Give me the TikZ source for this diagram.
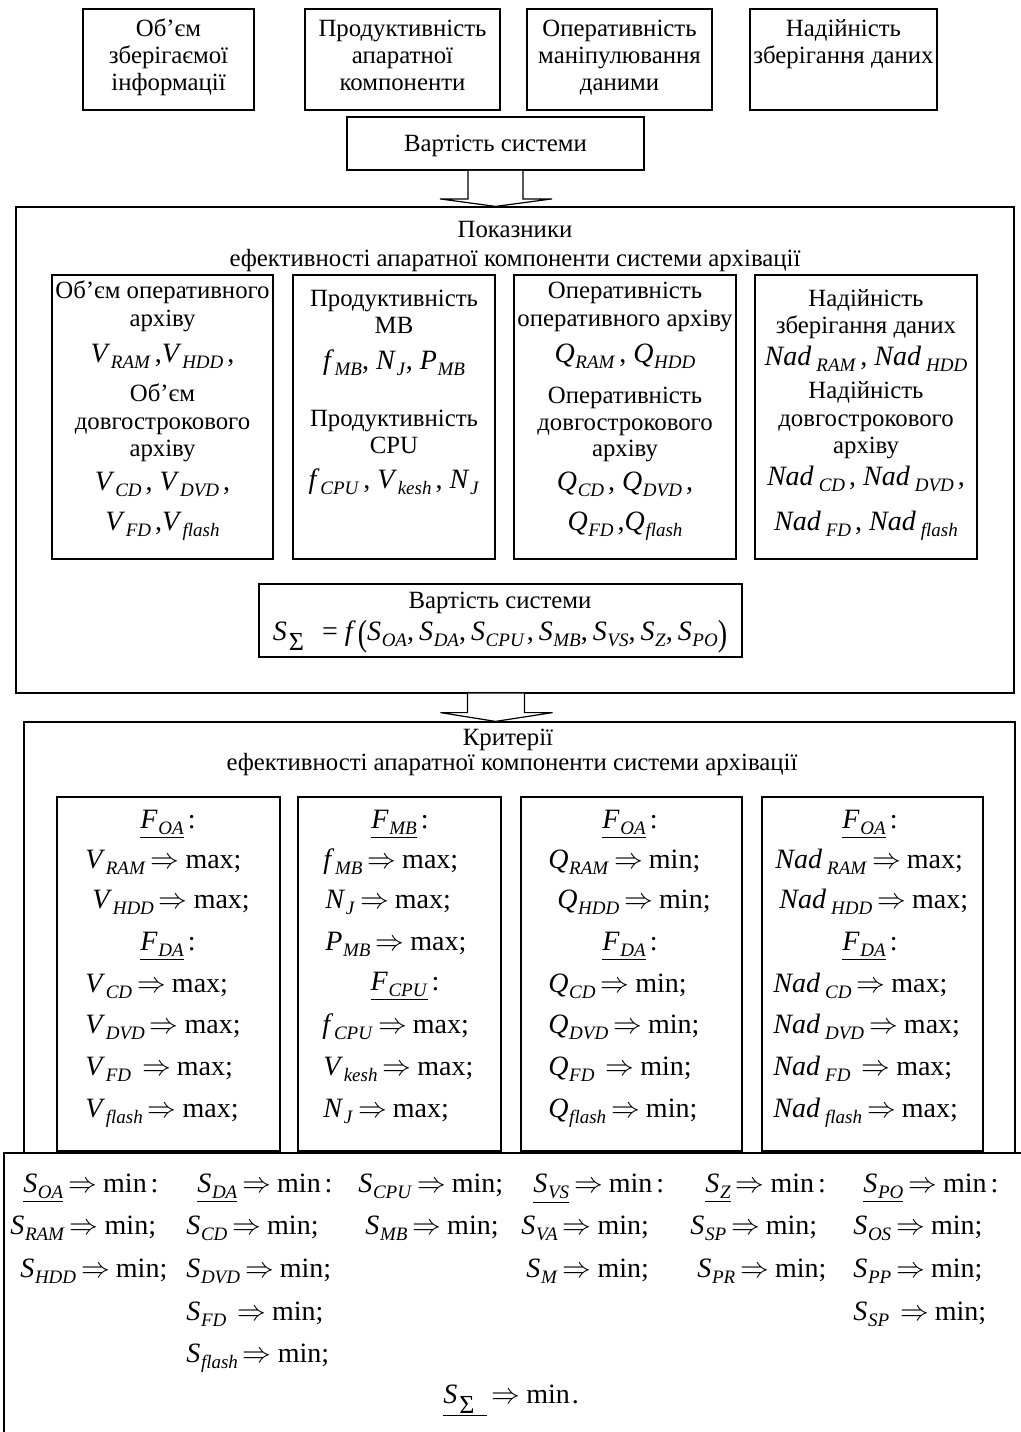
\documentclass[tikz,border=0pt]{standalone}
\usepackage{fontspec}
\setmainfont{Liberation Serif}
\usepackage{graphicx}
\usetikzlibrary{fit,calc}
\newcommand\vsub[2]{\textit{#1}\kern0.3pt\raisebox{-3.4pt}{\fontsize{9.5}{10}\selectfont\textit{#2}}}
\newcommand\nadsub[1]{\textit{Nad}\kern2.5pt\raisebox{-3.4pt}{\fontsize{9.5}{10}\selectfont\textit{#1}}}
\newcommand\rarr{\kern2.5pt$\Rightarrow$\kern3pt}
\newcommand\Ssig{\textit{S}\kern1pt\raisebox{-5pt}{\fontsize{13}{13}\selectfont Σ}}
\newcommand\bigparen[1]{\raisebox{-2.5pt}{\scalebox{1}[1.3]{#1}}}
\begin{document}
\begin{tikzpicture}[x=0.5pt,y=-0.5pt,
 box/.style={draw,line width=0.9pt,inner sep=0pt,fill=white},
 frame/.style={draw,line width=0.6pt,inner sep=0pt,fill=white},
 txt/.style={font=\fontsize{12.4}{14}\selectfont,inner sep=0pt,anchor=base},
 mth/.style={font=\fontsize{14}{16}\selectfont,inner sep=0pt,anchor=base},
 mthw/.style={mth,anchor=base west},
 barrow/.style={draw,line width=0.6pt,fill=white,line join=miter}]
\clip (0,0) rectangle (1021,1432);
% ---------- top row ----------
\node[box,fit={(83,9)(254,110)}] (b1) {};
\node[box,fit={(305,9)(500,110)}] (b2) {};
\node[box,fit={(527,9)(712,110)}] (b3) {};
\node[box,fit={(750,9)(937,110)}] (b4) {};
\node[txt] (b1a) at (168.5,36) {Об’єм};
\node[txt] (b1b) at (168.5,63) {зберігаємої};
\node[txt] (b1c) at (168.5,90) {інформації};
\node[txt] (b2a) at (402.5,36) {Продуктивність};
\node[txt] (b2b) at (402.5,63) {апаратної};
\node[txt] (b2c) at (402.5,90) {компоненти};
\node[txt] (b3a) at (619.5,36) {Оперативність};
\node[txt] (b3b) at (619.5,63) {маніпулювання};
\node[txt] (b3c) at (619.5,90) {даними};
\node[txt] (b4a) at (843.5,36) {Надійність};
\node[txt] (b4b) at (843.5,63) {зберігання даних};
\node[box,fit={(347,117)(644,170)}] (cost) {};
\node[txt] (costt) at (495.5,151) {Вартість системи};
% ---------- frames ----------
\node[frame,fit={(16,207)(1014,693)}] (f1) {};
\node[frame,fit={(24,722)(1015,1200)}] (f2) {};
% arrows
\coordinate (a1s) at (cost.south);
\draw[barrow] ($(a1s)+(-27.5,0)$) -- ($(a1s)+(-27.5,28)$) -- ($(a1s)+(-55.5,28)$) -- (a1s |- f1.north) -- ($(a1s)+(56.5,28)$) -- ($(a1s)+(27.5,28)$) -- ($(a1s)+(27.5,0)$);
\coordinate (a2s) at (a1s |- f1.south);
\draw[barrow] ($(a2s)+(-28,0)$) -- ($(a2s)+(-28,19)$) -- ($(a2s)+(-55,19)$) -- (a2s |- f2.north) -- ($(a2s)+(57,19)$) -- ($(a2s)+(29,19)$) -- ($(a2s)+(29,0)$);
% ---------- frame 1 contents ----------
\node[txt] (f1t1) at (515,237) {Показники};
\node[txt] (f1t2) at (515,266) {ефективності апаратної компоненти системи архівації};
\node[box,fit={(52,275)(273,559)}] (p1) {};
\node[box,fit={(293,275)(495,559)}] (p2) {};
\node[box,fit={(514,275)(736,559)}] (p3) {};
\node[box,fit={(755,275)(977,559)}] (p4) {};
% box p1
\node[txt] (p1a) at (162.5,298) {Об’єм оперативного};
\node[txt] (p1b) at (162.5,326) {архіву};
\node[mth] (p1c) at (162.5,362) {\vsub{V}{RAM}\kern2pt,\vsub{V}{HDD}\kern2pt,};
\node[txt] (p1d) at (162.5,401) {Об’єм};
\node[txt] (p1e) at (162.5,429) {довгострокового};
\node[txt] (p1f) at (162.5,456) {архіву};
\node[mth] (p1g) at (162.5,490) {\vsub{V}{CD}\kern2pt, \vsub{V}{DVD}\kern2pt,};
\node[mth] (p1h) at (162.5,530) {\vsub{V}{FD}\kern2pt,\vsub{V}{flash}};
% box p2
\node[txt] (p2a) at (394,306) {Продуктивність};
\node[txt] (p2b) at (394,333) {MB};
\node[mth] (p2c) at (394,369) {\vsub{f}{MB}, \vsub{N}{J}, \vsub{P}{MB}};
\node[txt] (p2d) at (394,426) {Продуктивність};
\node[txt] (p2e) at (394,453) {CPU};
\node[mth] (p2f) at (394,488) {\vsub{f}{CPU}\kern2pt, \vsub{V}{kesh}\kern2pt, \vsub{N}{J}};
% box p3
\node[txt] (p3a) at (625,298) {Оперативність};
\node[txt] (p3b) at (625,326) {оперативного архіву};
\node[mth] (p3c) at (625,362) {\vsub{Q}{RAM}\kern2pt, \vsub{Q}{HDD}};
\node[txt] (p3d) at (625,403) {Оперативність};
\node[txt] (p3e) at (625,430) {довгострокового};
\node[txt] (p3f) at (625,456) {архіву};
\node[mth] (p3g) at (625,490) {\vsub{Q}{CD}\kern2pt, \vsub{Q}{DVD}\kern2pt,};
\node[mth] (p3h) at (625,530) {\vsub{Q}{FD}\kern2pt,\vsub{Q}{flash}};
% box p4
\node[txt] (p4a) at (866,306) {Надійність};
\node[txt] (p4b) at (866,333) {зберігання даних};
\node[mth] (p4c) at (866,365) {\nadsub{RAM}\kern2pt, \nadsub{HDD}};
\node[txt] (p4d) at (866,398) {Надійність};
\node[txt] (p4e) at (866,426) {довгострокового};
\node[txt] (p4f) at (866,453) {архіву};
\node[mth] (p4g) at (866,485) {\nadsub{CD}\kern2pt, \nadsub{DVD}\kern2pt,};
\node[mth] (p4h) at (866,530) {\nadsub{FD}\kern2pt, \nadsub{flash}};
% cost box 2
\node[box,fit={(259,584)(742,657)}] (cost2) {};
\node[txt] (cost2a) at (500,608) {Вартість системи};
\node[mth] (cost2b) at (500,640) {\Ssig\kern9pt= \textit{f}\kern1pt\bigparen{(}\vsub{S}{OA},\kern2.5pt\vsub{S}{DA},\kern2.5pt\vsub{S}{CPU}\kern1pt,\kern2.5pt\vsub{S}{MB},\kern2.5pt\vsub{S}{VS},\kern2.5pt\vsub{S}{Z},\kern2.5pt\vsub{S}{PO}\bigparen{)}};
% ---------- frame 2 contents ----------
\node[txt] (f2t1) at (508,745) {Критерії};
\node[txt] (f2t2) at (512,770) {ефективності апаратної компоненти системи архівації};
\node[box,fit={(57,797)(280,1151)}] (k1) {};
\node[box,fit={(298,797)(501,1151)}] (k2) {};
\node[box,fit={(521,797)(742,1151)}] (k3) {};
\node[box,fit={(762,797)(983,1151)}] (k4) {};
% k1
\node[mth] (k1a) at (168,828) {\underline{\vsub{F}{OA}}\kern2pt:};
\node[mthw] (k1b) at (85,868) {\vsub{V}{RAM}\rarr max;};
\node[mthw] (k1c) at (92,908) {\vsub{V}{HDD}\rarr max;};
\node[mth] (k1d) at (168,950) {\underline{\vsub{F}{DA}}\kern2pt:};
\node[mthw] (k1e) at (85,992) {\vsub{V}{CD}\rarr max;};
\node[mthw] (k1f) at (85,1033) {\vsub{V}{DVD}\rarr max;};
\node[mthw] (k1g) at (85,1075) {\vsub{V}{FD}\kern3pt\rarr max;};
\node[mthw] (k1h) at (85,1117) {\vsub{V}{flash}\rarr max;};
% k2
\node[mth] (k2a) at (400,828) {\underline{\vsub{F}{MB}}\kern2pt:};
\node[mthw] (k2b) at (323,868) {\vsub{f}{MB}\rarr max;};
\node[mthw] (k2c) at (325,908) {\vsub{N}{J}\rarr max;};
\node[mthw] (k2d) at (325,950) {\vsub{P}{MB}\rarr max;};
\node[mth] (k2e) at (405,990) {\underline{\vsub{F}{CPU}}\kern2pt:};
\node[mthw] (k2f) at (322,1033) {\vsub{f}{CPU}\rarr max;};
\node[mthw] (k2g) at (323,1075) {\vsub{V}{kesh}\rarr max;};
\node[mthw] (k2h) at (323,1117) {\vsub{N}{J}\rarr max;};
% k3
\node[mth] (k3a) at (630,828) {\underline{\vsub{F}{OA}}\kern2pt:};
\node[mthw] (k3b) at (548,868) {\vsub{Q}{RAM}\rarr min;};
\node[mthw] (k3c) at (557,908) {\vsub{Q}{HDD}\rarr min;};
\node[mth] (k3d) at (630,950) {\underline{\vsub{F}{DA}}\kern2pt:};
\node[mthw] (k3e) at (548,992) {\vsub{Q}{CD}\rarr min;};
\node[mthw] (k3f) at (548,1033) {\vsub{Q}{DVD}\rarr min;};
\node[mthw] (k3g) at (548,1075) {\vsub{Q}{FD}\kern3pt\rarr min;};
\node[mthw] (k3h) at (548,1117) {\vsub{Q}{flash}\rarr min;};
% k4
\node[mth] (k4a) at (870,828) {\underline{\vsub{F}{OA}}\kern2pt:};
\node[mthw] (k4b) at (775,868) {\nadsub{RAM}\rarr max;};
\node[mthw] (k4c) at (779,908) {\nadsub{HDD}\rarr max;};
\node[mth] (k4d) at (870,950) {\underline{\vsub{F}{DA}}\kern2pt:};
\node[mthw] (k4e) at (773,992) {\nadsub{CD}\rarr max;};
\node[mthw] (k4f) at (773,1033) {\nadsub{DVD}\rarr max;};
\node[mthw] (k4g) at (773,1075) {\nadsub{FD}\kern3pt\rarr max;};
\node[mthw] (k4h) at (773,1117) {\nadsub{flash}\rarr max;};
% ---------- bottom frame ----------
\node[frame,fit={(4,1153)(1100,1500)}] (f3) {};
\node[mthw] (s11) at (23,1192) {\underline{\vsub{S}{OA}}\rarr min\kern2pt:};
\node[mthw] (s12) at (197,1192) {\underline{\vsub{S}{DA}}\rarr min\kern2pt:};
\node[mthw] (s13) at (358,1192) {\vsub{S}{CPU}\rarr min;};
\node[mthw] (s14) at (533,1192) {\underline{\vsub{S}{VS}}\rarr min\kern2pt:};
\node[mthw] (s15) at (705,1192) {\underline{\vsub{S}{Z}}\rarr min\kern2pt:};
\node[mthw] (s16) at (863,1192) {\underline{\vsub{S}{PO}}\rarr min\kern2pt:};
\node[mthw] (s21) at (10,1234) {\vsub{S}{RAM}\rarr min;};
\node[mthw] (s22) at (186,1234) {\vsub{S}{CD}\rarr min;};
\node[mthw] (s23) at (365,1234) {\vsub{S}{MB}\rarr min;};
\node[mthw] (s24) at (521,1234) {\vsub{S}{VA}\rarr min;};
\node[mthw] (s25) at (690,1234) {\vsub{S}{SP}\rarr min;};
\node[mthw] (s26) at (853,1234) {\vsub{S}{OS}\rarr min;};
\node[mthw] (s31) at (20,1277) {\vsub{S}{HDD}\rarr min;};
\node[mthw] (s32) at (186,1277) {\vsub{S}{DVD}\rarr min;};
\node[mthw] (s34) at (526,1277) {\vsub{S}{M}\rarr min;};
\node[mthw] (s35) at (697,1277) {\vsub{S}{PR}\rarr min;};
\node[mthw] (s36) at (853,1277) {\vsub{S}{PP}\rarr min;};
\node[mthw] (s42) at (186,1320) {\vsub{S}{FD}\kern3pt\rarr min;};
\node[mthw] (s46) at (853,1320) {\vsub{S}{SP}\kern3pt\rarr min;};
\node[mthw] (s52) at (186,1362) {\vsub{S}{flash}\rarr min;};
\node[mthw] (s6) at (443,1403) {\underline{\Ssig\kern6pt}\rarr min\kern1pt.};
\end{tikzpicture}
\end{document}
